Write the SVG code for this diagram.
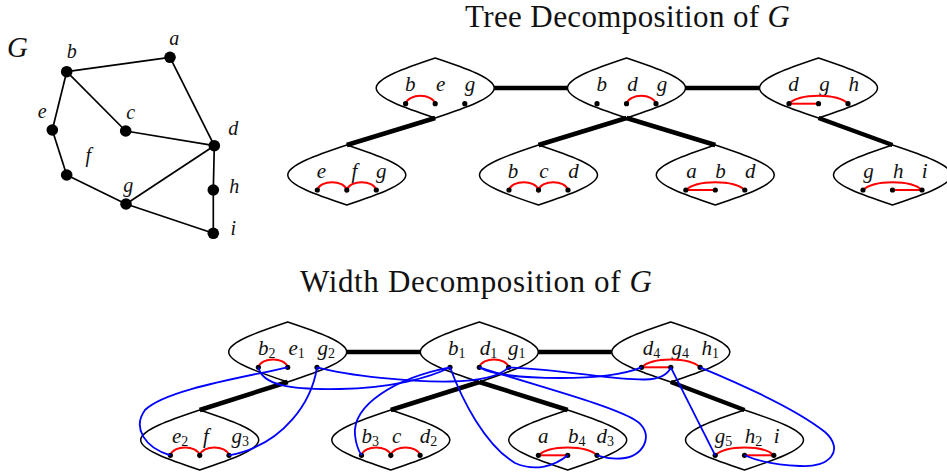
<svg xmlns="http://www.w3.org/2000/svg" xmlns:xlink="http://www.w3.org/1999/xlink" width="947" height="475" viewBox="0 0 947 475">
<style>
.edge{stroke:#000;stroke-width:1.7;fill:none}
.vtx{fill:#000}
.bag{fill:none;stroke:#000;stroke-width:1.5}
.thick{stroke:#000;stroke-width:4.5;fill:none}
.red{stroke:#f00;stroke-width:2;fill:none}
.blue{stroke:#00f;stroke-width:1.8;fill:none}
.dot{fill:#000}
.lbl{font-family:"Liberation Serif",serif;font-style:italic;font-size:21px;fill:#111;text-anchor:middle}
.lbs{font-family:"Liberation Serif",serif;font-style:italic;font-size:21px;fill:#111}
.sub{font-style:normal;font-size:14px}
.glbl{font-family:"Liberation Serif",serif;font-style:italic;font-size:20px;fill:#111;text-anchor:middle}
.title{font-family:"Liberation Serif",serif;font-size:31px;fill:#111}
</style>
<defs>
<path id="bagshape" class="bag" d="M -59,0 C -59,-10 -30,-20 0,-30 C 30,-20 59,-10 59,0 C 59,10 30,20 0,30 C -30,20 -59,10 -59,0 Z"/>
</defs>

<!-- Titles -->
<text class="title" x="465" y="27" textLength="325" lengthAdjust="spacing">Tree Decomposition of <tspan font-style="italic">G</tspan></text>
<text class="title" x="300" y="291.5" textLength="352" lengthAdjust="spacing">Width Decomposition of <tspan font-style="italic">G</tspan></text>

<!-- Graph G -->
<text x="7" y="57" font-family="Liberation Serif, serif" font-style="italic" font-size="29" fill="#111">G</text>
<g id="graph-edges">
<line class="edge" x1="66.7" y1="71.7" x2="170" y2="57.3"/>
<line class="edge" x1="66.7" y1="71.7" x2="52.3" y2="130"/>
<line class="edge" x1="66.7" y1="71.7" x2="125.7" y2="131"/>
<line class="edge" x1="170" y1="57.3" x2="214.3" y2="145.7"/>
<line class="edge" x1="125.7" y1="131" x2="214.3" y2="145.7"/>
<line class="edge" x1="52.3" y1="130" x2="66.7" y2="175"/>
<line class="edge" x1="66.7" y1="175" x2="126" y2="204"/>
<line class="edge" x1="126" y1="204" x2="214.3" y2="145.7"/>
<line class="edge" x1="126" y1="204" x2="213.3" y2="233.3"/>
<line class="edge" x1="214.3" y1="145.7" x2="213.3" y2="190"/>
<line class="edge" x1="213.3" y1="190" x2="213.3" y2="233.3"/>
</g>
<g id="v-a"><circle class="vtx" cx="170" cy="57.3" r="5.8"/><text class="glbl" x="174.3" y="45">a</text></g>
<g id="v-b"><circle class="vtx" cx="66.7" cy="71.7" r="5.8"/><text class="glbl" x="71.7" y="58">b</text></g>
<g id="v-c"><circle class="vtx" cx="125.7" cy="131" r="5.8"/><text class="glbl" x="130.7" y="119">c</text></g>
<g id="v-d"><circle class="vtx" cx="214.3" cy="145.7" r="5.8"/><text class="glbl" x="233.3" y="135">d</text></g>
<g id="v-e"><circle class="vtx" cx="52.3" cy="130" r="5.8"/><text class="glbl" x="42.3" y="118">e</text></g>
<g id="v-f"><circle class="vtx" cx="66.7" cy="175" r="5.8"/><text class="glbl" x="88.3" y="162">f</text></g>
<g id="v-g"><circle class="vtx" cx="126" cy="204" r="5.8"/><text class="glbl" x="128.3" y="192">g</text></g>
<g id="v-h"><circle class="vtx" cx="213.3" cy="190" r="5.8"/><text class="glbl" x="234.3" y="193">h</text></g>
<g id="v-i"><circle class="vtx" cx="213.3" cy="233.3" r="5.8"/><text class="glbl" x="233.3" y="235">i</text></g>

<!-- Tree decomposition connectors -->
<g id="tree-edges">
<line class="thick" x1="494.2" y1="88" x2="567.5" y2="88"/>
<line class="thick" x1="685.5" y1="88" x2="759.5" y2="88"/>
<line class="thick" x1="435.2" y1="118" x2="346.8" y2="145"/>
<line class="thick" x1="626.5" y1="118" x2="538.5" y2="145"/>
<line class="thick" x1="626.5" y1="118" x2="715.3" y2="145"/>
<line class="thick" x1="818.5" y1="118" x2="892.5" y2="145"/>
</g>

<!-- Tree bags -->
<g id="T1">
<use xlink:href="#bagshape" x="435.2" y="88"/>
<text class="lbl" x="410.3" y="91">b</text><text class="lbl" x="440.6" y="91">e</text><text class="lbl" x="469.9" y="91">g</text>
<path class="red" d="M405.6,103.7 C408.6,93.2 432.2,93.2 435.2,103.7"/>
<circle class="dot" cx="405.6" cy="103.7" r="2.6"/><circle class="dot" cx="435.2" cy="103.7" r="2.6"/><circle class="dot" cx="464.8" cy="103.7" r="2.6"/>
</g>
<g id="T2">
<use xlink:href="#bagshape" x="626.5" y="88"/>
<text class="lbl" x="601.7" y="91">b</text><text class="lbl" x="632.4" y="91">d</text><text class="lbl" x="662" y="91">g</text>
<path class="red" d="M626.5,103.7 C629.5,93.2 653,93.2 656,103.7"/>
<circle class="dot" cx="597" cy="103.7" r="2.6"/><circle class="dot" cx="626.5" cy="103.7" r="2.6"/><circle class="dot" cx="656" cy="103.7" r="2.6"/>
</g>
<g id="T3">
<use xlink:href="#bagshape" x="818.5" y="88"/>
<text class="lbl" x="793.5" y="91">d</text><text class="lbl" x="824.5" y="91">g</text><text class="lbl" x="853.8" y="91">h</text>
<path class="red" d="M789,103.7 L818.5,103.7"/>
<path class="red" d="M789,103.7 C800,93.2 837,93.2 848,103.7"/>
<circle class="dot" cx="789" cy="103.7" r="2.6"/><circle class="dot" cx="818.5" cy="103.7" r="2.6"/><circle class="dot" cx="848" cy="103.7" r="2.6"/>
</g>
<g id="T4">
<use xlink:href="#bagshape" x="346.8" y="175"/>
<text class="lbl" x="321.3" y="178">e</text><text class="lbl" x="354.5" y="178">f</text><text class="lbl" x="381.3" y="178">g</text>
<path class="red" d="M317.3,190 C320.3,179.5 343.8,179.5 346.8,190 C349.8,179.5 373.3,179.5 376.3,190"/>
<circle class="dot" cx="317.3" cy="190" r="2.6"/><circle class="dot" cx="346.8" cy="190" r="2.6"/><circle class="dot" cx="376.3" cy="190" r="2.6"/>
</g>
<g id="T5">
<use xlink:href="#bagshape" x="538.5" y="175"/>
<text class="lbl" x="513" y="178">b</text><text class="lbl" x="543.8" y="178">c</text><text class="lbl" x="573.6" y="178">d</text>
<path class="red" d="M509,190 C512,179.5 535.5,179.5 538.5,190 C541.5,179.5 565,179.5 568,190"/>
<circle class="dot" cx="509" cy="190" r="2.6"/><circle class="dot" cx="538.5" cy="190" r="2.6"/><circle class="dot" cx="568" cy="190" r="2.6"/>
</g>
<g id="T6">
<use xlink:href="#bagshape" x="715.3" y="175"/>
<text class="lbl" x="691.5" y="178">a</text><text class="lbl" x="720.4" y="178">b</text><text class="lbl" x="750.2" y="178">d</text>
<path class="red" d="M685.8,190 L715.3,190"/>
<path class="red" d="M685.8,190 C696.8,179.5 733.8,179.5 744.8,190"/>
<circle class="dot" cx="685.8" cy="190" r="2.6"/><circle class="dot" cx="715.3" cy="190" r="2.6"/><circle class="dot" cx="744.8" cy="190" r="2.6"/>
</g>
<g id="T7">
<use xlink:href="#bagshape" x="892.5" y="175"/>
<text class="lbl" x="868.5" y="178">g</text><text class="lbl" x="898.3" y="178">h</text><text class="lbl" x="924.7" y="178">i</text>
<path class="red" d="M863,190 C874,179.5 911,179.5 922,190"/>
<path class="red" d="M892.5,190 L922,190"/>
<circle class="dot" cx="863" cy="190" r="2.6"/><circle class="dot" cx="892.5" cy="190" r="2.6"/><circle class="dot" cx="922" cy="190" r="2.6"/>
</g>

<!-- Width decomposition connectors -->
<g id="width-edges">
<line class="thick" x1="346.7" y1="352" x2="420.3" y2="352"/>
<line class="thick" x1="538.3" y1="352" x2="611.8" y2="352"/>
<line class="thick" x1="287.7" y1="382" x2="199.7" y2="410"/>
<line class="thick" x1="479.3" y1="382" x2="390.8" y2="410"/>
<line class="thick" x1="479.3" y1="382" x2="567.7" y2="410"/>
<line class="thick" x1="670.8" y1="382" x2="744.5" y2="410"/>
</g>

<!-- Width bags -->
<g id="W1">
<use xlink:href="#bagshape" x="287.7" y="352"/>
<text class="lbs" x="258" y="355">b<tspan class="sub" dy="3">2</tspan></text>
<text class="lbs" x="288.4" y="355">e<tspan class="sub" dy="3">1</tspan></text>
<text class="lbs" x="317.5" y="355">g<tspan class="sub" dy="3">2</tspan></text>
<path class="red" d="M258.4,367.3 C261.4,356.8 284.7,356.8 287.7,367.3"/>
<circle class="dot" cx="258.4" cy="367.3" r="2.6"/><circle class="dot" cx="287.7" cy="367.3" r="2.6"/><circle class="dot" cx="317" cy="367.3" r="2.6"/>
</g>
<g id="W2">
<use xlink:href="#bagshape" x="479.3" y="352"/>
<text class="lbs" x="448" y="355">b<tspan class="sub" dy="3">1</tspan></text>
<text class="lbs" x="479.8" y="355">d<tspan class="sub" dy="3">1</tspan></text>
<text class="lbs" x="508" y="355">g<tspan class="sub" dy="3">1</tspan></text>
<path class="red" d="M479.3,367.3 C482.3,356.8 505.6,356.8 508.6,367.3"/>
<circle class="dot" cx="450" cy="367.3" r="2.6"/><circle class="dot" cx="479.3" cy="367.3" r="2.6"/><circle class="dot" cx="508.6" cy="367.3" r="2.6"/>
</g>
<g id="W3">
<use xlink:href="#bagshape" x="670.8" y="352"/>
<text class="lbs" x="642.8" y="355">d<tspan class="sub" dy="3">4</tspan></text>
<text class="lbs" x="671.5" y="355">g<tspan class="sub" dy="3">4</tspan></text>
<text class="lbs" x="701.5" y="355">h<tspan class="sub" dy="3">1</tspan></text>
<path class="red" d="M641.5,367.3 L670.8,367.3"/>
<path class="red" d="M641.5,367.3 C652.5,356.8 689.1,356.8 700.1,367.3"/>
<circle class="dot" cx="641.5" cy="367.3" r="2.6"/><circle class="dot" cx="670.8" cy="367.3" r="2.6"/><circle class="dot" cx="700.1" cy="367.3" r="2.6"/>
</g>
<g id="W4">
<use xlink:href="#bagshape" x="199.7" y="440"/>
<text class="lbs" x="172" y="443">e<tspan class="sub" dy="3">2</tspan></text>
<text class="lbl" x="206" y="443">f</text>
<text class="lbs" x="231.5" y="443">g<tspan class="sub" dy="3">3</tspan></text>
<path class="red" d="M170.4,455.3 C173.4,444.8 196.7,444.8 199.7,455.3 C202.7,444.8 226,444.8 229,455.3"/>
<circle class="dot" cx="170.4" cy="455.3" r="2.6"/><circle class="dot" cx="199.7" cy="455.3" r="2.6"/><circle class="dot" cx="229" cy="455.3" r="2.6"/>
</g>
<g id="W5">
<use xlink:href="#bagshape" x="390.8" y="440"/>
<text class="lbs" x="361.5" y="443">b<tspan class="sub" dy="3">3</tspan></text>
<text class="lbl" x="396.7" y="443">c</text>
<text class="lbs" x="419.8" y="443">d<tspan class="sub" dy="3">2</tspan></text>
<path class="red" d="M361.5,455.3 C364.5,444.8 387.8,444.8 390.8,455.3 C393.8,444.8 417.1,444.8 420.1,455.3"/>
<circle class="dot" cx="361.5" cy="455.3" r="2.6"/><circle class="dot" cx="390.8" cy="455.3" r="2.6"/><circle class="dot" cx="420.1" cy="455.3" r="2.6"/>
</g>
<g id="W6">
<use xlink:href="#bagshape" x="567.7" y="440"/>
<text class="lbl" x="543.3" y="443">a</text>
<text class="lbs" x="568" y="443">b<tspan class="sub" dy="3">4</tspan></text>
<text class="lbs" x="596.5" y="443">d<tspan class="sub" dy="3">3</tspan></text>
<path class="red" d="M538.4,455.3 L567.7,455.3"/>
<path class="red" d="M538.4,455.3 C549.4,444.8 586,444.8 597,455.3"/>
<circle class="dot" cx="538.4" cy="455.3" r="2.6"/><circle class="dot" cx="567.7" cy="455.3" r="2.6"/><circle class="dot" cx="597" cy="455.3" r="2.6"/>
</g>
<g id="W7">
<use xlink:href="#bagshape" x="744.5" y="440"/>
<text class="lbs" x="714.8" y="443">g<tspan class="sub" dy="3">5</tspan></text>
<text class="lbs" x="744.8" y="443">h<tspan class="sub" dy="3">2</tspan></text>
<text class="lbl" x="776.7" y="443">i</text>
<path class="red" d="M715.2,455.3 C726.2,444.8 762.8,444.8 773.8,455.3"/>
<path class="red" d="M744.5,455.3 L773.8,455.3"/>
<circle class="dot" cx="715.2" cy="455.3" r="2.6"/><circle class="dot" cx="744.5" cy="455.3" r="2.6"/><circle class="dot" cx="773.8" cy="455.3" r="2.6"/>
</g>

<!-- Copy links (blue) -->
<g id="copy-links">
<path class="blue" d="M287.7,367.3 C240,378 165,390 145,410 C132,428 145,448 170.4,455.3"/>
<path class="blue" d="M317,367.3 C312,400 285,445 229,455.3"/>
<path class="blue" d="M258.4,367.3 C262,385 290,390 340,389 C390,388 430,378 450,367.3"/>
<path class="blue" d="M317,367.3 C350,376 410,382 450,381.5 C480,381 500,376 508.6,367.3"/>
<path class="blue" d="M450,367.3 C395,378 352,405 355,435 C356,445 358,450 361.5,455.3"/>
<path class="blue" d="M450,367.3 C462,400 485,445 515,463 C535,472 555,466 567.7,455.3"/>
<path class="blue" d="M479.3,367.3 C540,387 610,405 635,420 C655,432 645,455 625,458 C610,460 602,457 597,455.3"/>
<path class="blue" d="M479.3,367.3 C490,374 520,378 560,378 C600,378 625,374 641.5,367.3"/>
<path class="blue" d="M508.6,367.3 C570,370 610,380 645,379.5 C660,379 668,374 670.8,367.3"/>
<path class="blue" d="M670.8,367.3 L715.2,455.3"/>
<path class="blue" d="M700.1,367.3 C750,388 800,412 825,432 C845,450 830,468 800,466 C775,465 755,460 744.5,455.3"/>
</g>
</svg>
